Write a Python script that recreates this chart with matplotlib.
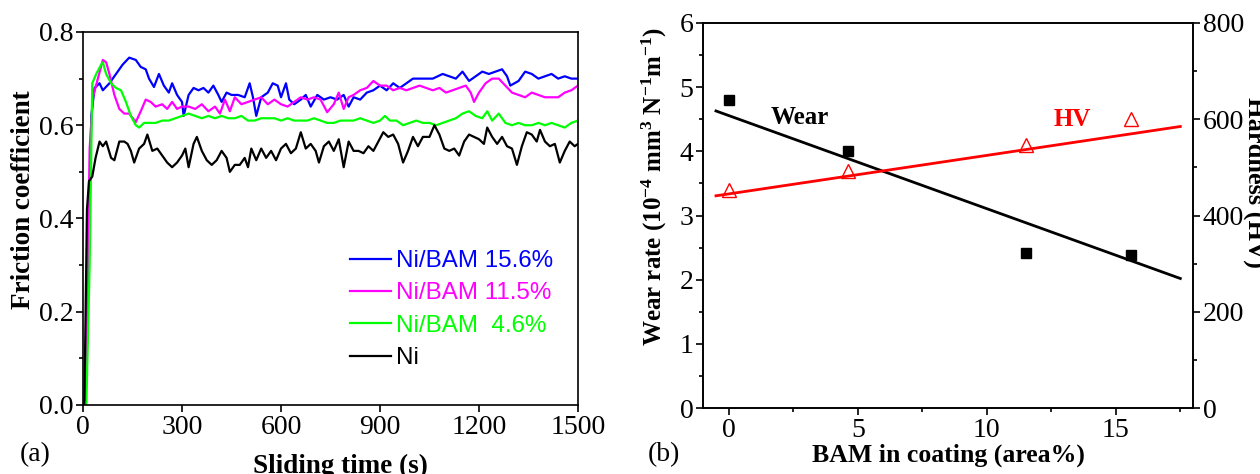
import matplotlib
matplotlib.use("Agg")
import matplotlib.pyplot as plt
from matplotlib.ticker import MultipleLocator, FormatStrFormatter

plt.rcParams["font.family"] = "serif"
plt.rcParams["font.serif"] = ["Liberation Serif", "DejaVu Serif"]
plt.rcParams["mathtext.fontset"] = "custom"
plt.rcParams["mathtext.rm"] = "Liberation Serif:bold"
plt.rcParams["mathtext.bf"] = "Liberation Serif:bold"
plt.rcParams["mathtext.default"] = "bf"

# ---- (a) friction coefficient vs sliding time ----
t_b156 = [8, 18, 25, 35, 50, 60, 80, 100, 120, 140, 160, 175, 190, 200, 215, 230, 245, 260, 270,
          285, 300, 305, 320, 335, 350, 365, 380, 395, 410, 420, 435, 450, 470, 490, 505, 515, 525,
          540, 560, 575, 590, 600, 615, 625, 640, 660, 675, 690, 710, 730, 750, 770, 790, 805, 820,
          840, 860, 880, 900, 920, 940, 960, 980, 1000, 1030, 1060, 1090, 1110, 1130, 1150, 1170,
          1190, 1210, 1230, 1250, 1270, 1285, 1295, 1320, 1340, 1360, 1380, 1400, 1420, 1440, 1460,
          1480, 1500]
mu_b156 = [0.01, 0.35, 0.62, 0.68, 0.69, 0.675, 0.69, 0.71, 0.73, 0.745, 0.74, 0.725, 0.72, 0.70,
           0.682, 0.71, 0.685, 0.67, 0.69, 0.665, 0.65, 0.62, 0.665, 0.68, 0.675, 0.68, 0.67, 0.685,
           0.665, 0.65, 0.67, 0.665, 0.665, 0.66, 0.69, 0.66, 0.62, 0.66, 0.67, 0.69, 0.685, 0.66,
           0.69, 0.655, 0.645, 0.655, 0.665, 0.64, 0.665, 0.655, 0.66, 0.655, 0.665, 0.64, 0.66,
           0.655, 0.67, 0.675, 0.685, 0.675, 0.69, 0.68, 0.69, 0.70, 0.70, 0.70, 0.71, 0.705, 0.70,
           0.715, 0.695, 0.705, 0.715, 0.71, 0.715, 0.72, 0.705, 0.685, 0.695, 0.715, 0.71, 0.70,
           0.705, 0.71, 0.70, 0.705, 0.70, 0.70]

t_b115 = [8, 20, 30, 45, 60, 70, 80, 95, 110, 125, 140, 160, 175, 190, 205, 220, 240, 255, 270, 285,
          300, 320, 340, 360, 380, 400, 415, 430, 445, 460, 480, 500, 520, 540, 560, 580, 600, 620,
          640, 660, 680, 700, 720, 740, 760, 775, 790, 805, 820, 840, 860, 880, 900, 920, 940, 960,
          980, 1000, 1020, 1040, 1060, 1080, 1100, 1120, 1140, 1160, 1175, 1185, 1200, 1220, 1240,
          1260, 1280, 1300, 1320, 1340, 1360, 1380, 1400, 1420, 1440, 1460, 1480, 1500]
mu_b115 = [0.01, 0.55, 0.66, 0.70, 0.74, 0.735, 0.71, 0.665, 0.635, 0.625, 0.625, 0.607, 0.63,
           0.655, 0.65, 0.64, 0.645, 0.635, 0.65, 0.635, 0.64, 0.64, 0.635, 0.645, 0.63, 0.64,
           0.625, 0.655, 0.63, 0.66, 0.645, 0.65, 0.655, 0.66, 0.645, 0.655, 0.645, 0.64, 0.65,
           0.66, 0.655, 0.66, 0.655, 0.628, 0.645, 0.67, 0.635, 0.66, 0.665, 0.675, 0.68, 0.695,
           0.685, 0.685, 0.675, 0.68, 0.675, 0.68, 0.685, 0.68, 0.675, 0.68, 0.67, 0.675, 0.68,
           0.685, 0.67, 0.65, 0.67, 0.69, 0.70, 0.70, 0.685, 0.67, 0.665, 0.66, 0.67, 0.665, 0.66,
           0.66, 0.66, 0.67, 0.675, 0.685]

t_b46 = [10, 20, 28, 40, 55, 60, 70, 85, 100, 115, 130, 145, 160, 170, 185, 200, 220, 240, 260, 280,
         300, 320, 340, 360, 380, 400, 420, 440, 460, 480, 500, 520, 540, 560, 580, 600, 620, 640,
         660, 680, 700, 720, 740, 760, 780, 800, 820, 840, 860, 880, 900, 915, 930, 950, 970, 990,
         1010, 1030, 1050, 1070, 1090, 1110, 1130, 1150, 1170, 1190, 1210, 1225, 1240, 1260, 1280,
         1300, 1320, 1340, 1360, 1380, 1400, 1420, 1440, 1460, 1480, 1500]
mu_b46 = [0.0, 0.30, 0.69, 0.71, 0.73, 0.735, 0.71, 0.69, 0.68, 0.675, 0.65, 0.62, 0.60, 0.595,
          0.605, 0.605, 0.605, 0.61, 0.61, 0.615, 0.62, 0.625, 0.62, 0.615, 0.62, 0.615, 0.62,
          0.615, 0.615, 0.62, 0.61, 0.61, 0.615, 0.615, 0.615, 0.61, 0.615, 0.61, 0.61, 0.61,
          0.615, 0.61, 0.605, 0.605, 0.61, 0.61, 0.61, 0.615, 0.61, 0.605, 0.61, 0.62, 0.61, 0.61,
          0.60, 0.605, 0.61, 0.605, 0.605, 0.60, 0.605, 0.61, 0.615, 0.625, 0.63, 0.62, 0.615,
          0.63, 0.61, 0.625, 0.605, 0.60, 0.605, 0.60, 0.60, 0.605, 0.60, 0.605, 0.60, 0.595,
          0.605, 0.61]

t_ni = [4, 12, 18, 28, 38, 50, 60, 70, 85, 95, 110, 125, 135, 145, 155, 170, 185, 195, 210, 225, 240,
        255, 270, 285, 300, 310, 320, 335, 345, 360, 375, 390, 405, 420, 435, 445, 460, 475, 490,
        500, 510, 525, 540, 555, 570, 585, 600, 615, 630, 645, 660, 675, 690, 705, 715, 730, 745,
        760, 775, 790, 805, 820, 835, 850, 865, 880, 895, 910, 925, 940, 955, 970, 985, 1000, 1015,
        1030, 1050, 1065, 1080, 1095, 1110, 1125, 1140, 1155, 1170, 1185, 1200, 1215, 1225, 1240,
        1255, 1270, 1285, 1300, 1315, 1330, 1345, 1360, 1375, 1385, 1400, 1415, 1430, 1445, 1460,
        1475, 1490, 1500]
mu_ni = [0.0, 0.42, 0.48, 0.49, 0.53, 0.565, 0.555, 0.565, 0.53, 0.525, 0.565, 0.565, 0.56, 0.545,
         0.52, 0.55, 0.56, 0.58, 0.545, 0.55, 0.535, 0.52, 0.51, 0.52, 0.535, 0.55, 0.51, 0.56,
         0.575, 0.545, 0.525, 0.515, 0.525, 0.545, 0.53, 0.50, 0.515, 0.515, 0.53, 0.51, 0.55,
         0.525, 0.55, 0.53, 0.545, 0.525, 0.55, 0.56, 0.54, 0.55, 0.585, 0.55, 0.56, 0.545, 0.52,
         0.555, 0.565, 0.545, 0.57, 0.51, 0.565, 0.545, 0.545, 0.54, 0.555, 0.545, 0.565, 0.585,
         0.575, 0.58, 0.56, 0.52, 0.545, 0.575, 0.555, 0.575, 0.575, 0.60, 0.58, 0.55, 0.545, 0.55,
         0.535, 0.565, 0.58, 0.575, 0.57, 0.56, 0.595, 0.575, 0.56, 0.575, 0.555, 0.55, 0.515,
         0.555, 0.585, 0.58, 0.565, 0.59, 0.565, 0.555, 0.56, 0.52, 0.545, 0.565, 0.555, 0.56]

# ---- (b) wear rate and hardness vs BAM content ----
bam = [0, 4.6, 11.5, 15.6]
wear_rate = [4.8, 4.0, 2.42, 2.38]          # 10^-4 mm^3 N^-1 m^-1
hardness = [453, 493, 547, 600]             # HV
fit_span = [-0.5, 17.5]
wear_fit = (4.557, -0.145)                  # intercept, slope
hv_fit = (445.0, 8.0)

TICK_FS = 20

fig = plt.figure(figsize=(12.6, 4.74), dpi=100)

# panel (a)
ax1 = fig.add_axes([0.0659, 0.1456, 0.3928, 0.7869])
ax1.plot(t_b156, mu_b156, color="#0000FF", lw=1.6, label="Ni/BAM 15.6%")
ax1.plot(t_b115, mu_b115, color="#FF00FF", lw=1.6, label="Ni/BAM 11.5%")
ax1.plot(t_b46, mu_b46, color="#00FF00", lw=1.6, label="Ni/BAM  4.6%")
ax1.plot(t_ni, mu_ni, color="black", lw=1.6, label="Ni")
ax1.set_xlim(0, 1500)
ax1.set_ylim(0, 0.8)
ax1.xaxis.set_major_locator(MultipleLocator(300))
ax1.yaxis.set_major_locator(MultipleLocator(0.2))
ax1.yaxis.set_minor_locator(MultipleLocator(0.1))
ax1.yaxis.set_major_formatter(FormatStrFormatter("%.1f"))
ax1.tick_params(which="both", direction="out", labelsize=TICK_FS, width=1.2, pad=2)
ax1.tick_params(which="major", length=5)
ax1.tick_params(which="minor", length=3)
for s in ax1.spines.values():
    s.set_linewidth(1.2)
ax1.set_ylabel("Friction coefficient", fontsize=19.5, fontweight="bold")
ax1.yaxis.set_label_coords(-0.095, 0.55)
ax1.set_xlabel("Sliding time (s)", fontsize=19.5, fontweight="bold")
ax1.xaxis.set_label_coords(0.52, -0.13)

leg = ax1.legend(loc="upper left", bbox_to_anchor=(350 / 1260, 1 - 250 / 474),
                 bbox_transform=fig.transFigure, frameon=False, borderpad=0,
                 borderaxespad=0, handlelength=1.7, handletextpad=0.2, labelspacing=0.43,
                 prop={"family": "Liberation Sans", "size": 17.4})
for txt, line in zip(leg.get_texts(), leg.get_lines()):
    txt.set_color(line.get_color())
fig.text(20 / 1260, 1 - 455 / 474, "(a)", fontsize=20, va="center", ha="left")

# panel (b)
ax2 = fig.add_axes([0.558, 0.139, 0.389, 0.8125])
ax3 = ax2.twinx()
xs = fit_span
ax2.plot(bam, wear_rate, "s", color="black", ms=6.5)
ax2.plot(xs, [wear_fit[0] + wear_fit[1] * x for x in xs], color="black", lw=2)
ax3.plot(bam, hardness, "^", mfc="none", mec="red", ms=10, mew=1)
ax3.plot(xs, [hv_fit[0] + hv_fit[1] * x for x in xs], color="red", lw=2)
ax2.set_xlim(-1, 18)
ax2.set_ylim(0, 6)
ax3.set_ylim(0, 800)
ax2.xaxis.set_major_locator(MultipleLocator(5))
ax2.xaxis.set_minor_locator(MultipleLocator(2.5))
ax2.yaxis.set_major_locator(MultipleLocator(1))
ax2.yaxis.set_minor_locator(MultipleLocator(0.5))
ax3.yaxis.set_major_locator(MultipleLocator(200))
ax3.yaxis.set_minor_locator(MultipleLocator(100))
for a in (ax2, ax3):
    a.tick_params(which="both", direction="out", labelsize=TICK_FS, width=1.2, pad=2)
    a.tick_params(which="major", length=5)
    a.tick_params(which="minor", length=3)
    for s in a.spines.values():
        s.set_linewidth(1.2)
ax2.set_ylabel(r"Wear rate (10$^{-4}$ mm$^{3}$ N$^{-1}$m$^{-1}$)", fontsize=18,
               fontweight="bold")
ax2.yaxis.set_label_coords(-0.07, 0.575)
ax3.set_ylabel("Hardness (HV)", fontsize=19, fontweight="bold", rotation=270)
ax3.yaxis.set_label_coords(1.15, 0.585)
ax2.set_xlabel("BAM in coating (area%)", fontsize=18.5, fontweight="bold")
ax2.xaxis.set_label_coords(0.5, -0.092)
ax2.text(2.75, 4.52, "Wear", fontsize=18, fontweight="bold", ha="center", va="center")
ax2.text(13.3, 4.5, "HV", fontsize=18, fontweight="bold", color="red", ha="center",
         va="center")
fig.text(648 / 1260, 1 - 455 / 474, "(b)", fontsize=20, va="center", ha="left")

fig.savefig("out.png", dpi=100)
